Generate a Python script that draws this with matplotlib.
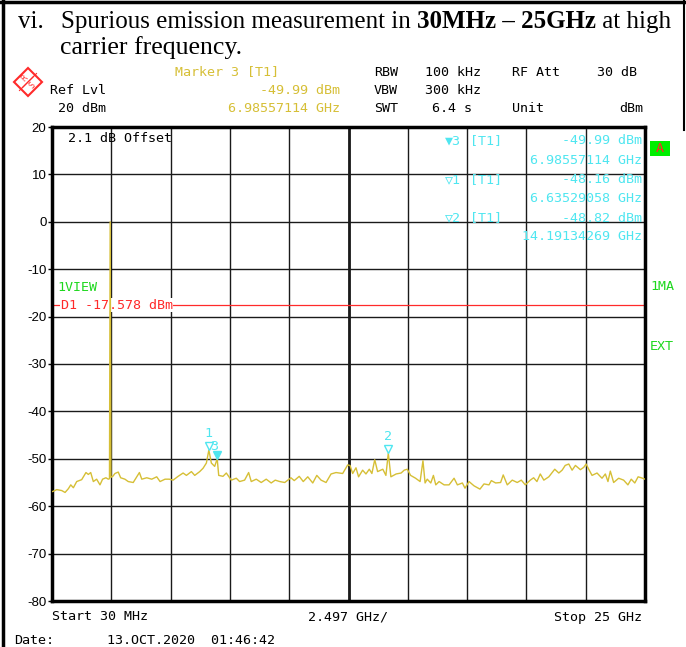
import matplotlib.pyplot as plt
import matplotlib.transforms as mtransforms
from matplotlib.lines import Line2D
from matplotlib.patches import Polygon, Rectangle

# trace (GHz, dBm)
freq = [0.06, 0.23, 0.44, 0.58, 0.72, 0.82, 0.93, 1.07, 1.28, 1.46, 1.56, 1.66,
        1.77, 1.91, 2.05, 2.16, 2.30, 2.40, 2.45, 2.48, 2.51, 2.59, 2.68, 2.82,
        2.92, 3.10, 3.24, 3.45, 3.71, 3.81, 4.02, 4.23, 4.44, 4.58, 4.79, 4.97,
        5.13, 5.34, 5.55, 5.69, 5.90, 6.04, 6.25, 6.39, 6.53, 6.635, 6.74, 6.88,
        6.986, 7.05, 7.23, 7.37, 7.58, 7.79, 7.93, 8.14, 8.31, 8.42, 8.63, 8.84,
        9.05, 9.26, 9.43, 9.62, 9.83, 10.09, 10.23, 10.44, 10.61, 10.80, 11.01,
        11.18, 11.36, 11.57, 11.78, 11.99, 12.27, 12.48, 12.58, 12.69, 12.83,
        12.94, 13.11, 13.25, 13.39, 13.50, 13.62, 13.74, 13.96, 14.09, 14.191,
        14.30, 14.52, 14.73, 14.86, 14.99, 15.13, 15.34, 15.53, 15.65, 15.74,
        15.83, 15.98, 16.09, 16.19, 16.33, 16.54, 16.75, 16.96, 17.10, 17.31,
        17.42, 17.59, 17.80, 18.05, 18.22, 18.43, 18.53, 18.71, 18.92, 19.03,
        19.20, 19.41, 19.62, 19.79, 19.96, 20.17, 20.31, 20.45, 20.59, 20.74,
        20.95, 21.20, 21.37, 21.51, 21.64, 21.79, 21.93, 22.07, 22.28, 22.42,
        22.52, 22.63, 22.77, 22.98, 23.19, 23.33, 23.44, 23.54, 23.68, 23.89,
        24.10, 24.28, 24.42, 24.57, 24.71, 24.84, 25.0]
level = [-56.9, -56.5, -56.7, -57.1, -56.3, -55.5, -56.1, -54.8, -54.4, -52.9, -53.3, -52.9,
         -54.8, -54.3, -55.5, -54.3, -54.0, -54.3, -54.2, 0.0, -53.9, -53.7, -53.1, -52.8,
         -54.0, -54.3, -54.8, -55.0, -52.9, -54.3, -54.0, -54.3, -53.8, -54.8, -54.3, -54.3,
         -54.5, -53.7, -53.0, -53.5, -52.7, -53.5, -52.7, -52.0, -50.9, -48.16, -50.9, -51.6,
         -49.99, -53.5, -53.7, -53.0, -54.5, -54.1, -54.8, -54.5, -52.9, -54.8, -54.3, -55.0,
         -54.3, -55.1, -54.5, -54.8, -55.0, -54.0, -54.6, -53.7, -54.8, -53.8, -55.1,
         -53.5, -54.5, -55.0, -53.2, -52.9, -53.1, -51.3, -51.4, -53.1, -51.9,
         -53.8, -52.4, -53.2, -52.2, -53.1, -50.2, -52.7, -52.2, -53.5, -48.82,
         -53.8, -53.2, -53.0, -52.4, -52.2, -53.5, -54.1, -54.8, -50.4, -55.1,
         -54.3, -55.1, -53.5, -55.5, -54.8, -55.5, -55.5, -54.1, -55.5, -55.1,
         -56.2, -54.8, -55.7, -56.4, -55.3, -55.5, -54.6, -55.1, -55.0, -53.4,
         -55.5, -54.5, -55.0, -54.5, -55.5, -54.5, -54.0, -54.8, -53.2, -54.5,
         -53.8, -52.2, -53.0, -52.4, -51.4, -51.1, -52.4, -51.4, -52.3, -51.8,
         -51.1, -52.2, -53.5, -53.0, -54.1, -53.2, -54.8, -52.6, -55.0, -54.1,
         -54.5, -55.5, -54.3, -55.1, -53.8, -54.0, -54.3]

# markers: number, frequency (GHz), level (dBm), filled
mk_num = ['1', '2', '3']
mk_freq = [6.63529058, 14.19134269, 6.98557114]
mk_level = [-48.16, -48.82, -49.99]
mk_filled = [False, False, True]

display_line = -17.578
f_start, f_stop = 0.03, 25.0
yticks = [20, 10, 0, -10, -20, -30, -40, -50, -60, -70, -80]

W, H = 686, 647
fig = plt.figure(figsize=(W / 100, H / 100), dpi=100)

def px(x, y):
    return x / W, 1 - y / H

mono = 'DejaVu Sans Mono'
yellow = '#d6bf36'
cyan = '#4fe6f0'
green = '#1ed81e'
red = '#ff2a2a'
hs = 9.6   # instrument text size
ts = 18    # title size

# table cell border
fig.add_artist(Line2D([3 / W, 3 / W], [0, 1], color='black', lw=2.5))
fig.add_artist(Line2D([0, 1], [1 - 1.5 / H, 1 - 1.5 / H], color='black', lw=2.5))
fig.add_artist(Line2D([684 / W, 684 / W], [1 - 130 / H, 1], color='black', lw=1.5))

# title, pieces placed one after the other
r = fig.canvas.get_renderer()
fig.text(*px(18, 22), 'vi.', fontsize=ts, family='Liberation Serif', va='center')
t0 = fig.text(*px(61, 22), 'Spurious emission measurement in ', fontsize=ts,
              family='Liberation Serif', va='center')
x1 = t0.get_window_extent(r).x1 / W
t2 = fig.text(x1, 1 - 22 / H, '30MHz \u2013 25GHz', fontsize=ts,
              family='Liberation Serif', weight='bold', va='center')
x2 = t2.get_window_extent(r).x1 / W
fig.text(x2, 1 - 22 / H, ' at high', fontsize=ts, family='Liberation Serif', va='center')
fig.text(*px(60, 48), 'carrier frequency.', fontsize=18.5, family='Liberation Serif',
         va='center')

# R&S logo
cx, cy, rr = 28, 82, 14
logo = Polygon([px(cx, cy - rr), px(cx + rr, cy), px(cx, cy + rr), px(cx - rr, cy)],
               closed=True, fill=False, edgecolor=red, lw=1.5, transform=fig.transFigure)
fig.add_artist(logo)
for d in (-1.5, 1.5):
    fig.add_artist(Line2D([(cx - 7 + d) / W, (cx + 7 + d) / W],
                          [1 - (cy + 7 - d) / H, 1 - (cy - 7 - d) / H],
                          color=red, lw=0.8))
fig.text(*px(cx - 4, cy - 4), 'R', fontsize=5.5, color=red, ha='center', va='center', rotation=45)
fig.text(*px(cx + 4, cy + 4), 'S', fontsize=5.5, color=red, ha='center', va='center', rotation=45)

# instrument header
fig.text(*px(175, 72), 'Marker 3 [T1]', family=mono, fontsize=hs, color=yellow, va='center')
fig.text(*px(374, 72), 'RBW', family=mono, fontsize=hs, va='center')
fig.text(*px(425, 72), '100 kHz', family=mono, fontsize=hs, va='center')
fig.text(*px(512, 72), 'RF Att', family=mono, fontsize=hs, va='center')
fig.text(*px(637, 72), '30 dB', family=mono, fontsize=hs, va='center', ha='right')
fig.text(*px(50, 90), 'Ref Lvl', family=mono, fontsize=hs, va='center')
fig.text(*px(340, 90), '-49.99 dBm', family=mono, fontsize=hs, color=yellow, va='center', ha='right')
fig.text(*px(374, 90), 'VBW', family=mono, fontsize=hs, va='center')
fig.text(*px(425, 90), '300 kHz', family=mono, fontsize=hs, va='center')
fig.text(*px(58, 109), '20 dBm', family=mono, fontsize=hs, va='center')
fig.text(*px(340, 109), '6.98557114 GHz', family=mono, fontsize=hs, color=yellow, va='center', ha='right')
fig.text(*px(374, 109), 'SWT', family=mono, fontsize=hs, va='center')
fig.text(*px(432, 109), '6.4 s', family=mono, fontsize=hs, va='center')
fig.text(*px(512, 109), 'Unit', family=mono, fontsize=hs, va='center')
fig.text(*px(643, 109), 'dBm', family=mono, fontsize=hs, va='center', ha='right')

# plot area
ax = fig.add_axes([52 / W, 46 / H, 593 / W, 474 / H])
ax.set_xlim(f_start, f_stop)
ax.set_ylim(-80, 20)
ax.set_yticks(yticks)
ax.set_yticklabels([str(v) for v in yticks], family='Liberation Sans', fontsize=9.5)
ax.tick_params(axis='y', length=3, pad=1, width=1)
xt = [f_start + k * (f_stop - f_start) / 10 for k in range(11)]
ax.set_xticks(xt)
ax.set_xticklabels([])
ax.tick_params(axis='x', length=0)
ax.grid(True, color='#1a1a1a', lw=1.0)
ax.axvline(xt[5], color='#1a1a1a', lw=2.0)
for s in ax.spines.values():
    s.set_linewidth(2.5)
    s.set_color('black')

ax.plot(freq, level, color=yellow, lw=1.0, zorder=4)

# display line
ax.axhline(display_line, color=red, lw=0.9, zorder=2)
ax.text(0.4, display_line, 'D1 -17.578 dBm', family=mono, fontsize=hs, color=red,
        va='center', zorder=3, bbox=dict(facecolor='white', edgecolor='none', pad=0.5))

ax.text(0.7, 17.6, '2.1 dB Offset', family=mono, fontsize=hs, va='center')
ax.text(0.25, -13.8, '1VIEW', family=mono, fontsize=hs, color=green, va='center')

# marker table
rows = [('\u25bc3', '[T1]', '-49.99 dBm', '6.98557114 GHz'),
        ('\u25bd1', '[T1]', '-48.16 dBm', '6.63529058 GHz'),
        ('\u25bd2', '[T1]', '-48.82 dBm', '14.19134269 GHz')]
for i, (a, b, c, d) in enumerate(rows):
    y1 = 141 + i * 38.5
    fig.text(*px(445, y1), a, family=mono, fontsize=hs, color=cyan, va='center')
    fig.text(*px(470, y1), b, family=mono, fontsize=hs, color=cyan, va='center')
    fig.text(*px(642, y1), c, family=mono, fontsize=hs, color=cyan, va='center', ha='right')
    fig.text(*px(642, y1 + 19), d, family=mono, fontsize=hs, color=cyan, va='center', ha='right')

# marker symbols on trace
for n, f, lv, filled in zip(mk_num, mk_freq, mk_level, mk_filled):
    tri = mtransforms.offset_copy(ax.transData, fig=fig, x=0, y=3, units='points')
    ax.plot([f], [lv], marker='v', ms=6, color=cyan,
            markerfacecolor=cyan if filled else 'white', transform=tri, zorder=5)
    if filled:
        lab = mtransforms.offset_copy(ax.transData, fig=fig, x=-2, y=9, units='points')
    else:
        lab = mtransforms.offset_copy(ax.transData, fig=fig, x=0, y=12, units='points')
    ax.text(f, lv, n, transform=lab, family=mono, fontsize=hs, color=cyan,
            ha='center', va='center', zorder=5)

# right side labels
fig.add_artist(Rectangle(px(650, 156), 20 / W, 15 / H, facecolor='#00ee00',
                         edgecolor='none', transform=fig.transFigure))
fig.text(*px(660, 148), 'A', family=mono, fontsize=hs, color=red, ha='center', va='center')
fig.text(*px(650, 287), '1MA', family=mono, fontsize=hs, color=green, va='center')
fig.text(*px(650, 347), 'EXT', family=mono, fontsize=hs, color=green, va='center')

# bottom
fig.text(*px(52, 617), 'Start 30 MHz', family=mono, fontsize=hs, va='center')
fig.text(*px(348, 617), '2.497 GHz/', family=mono, fontsize=hs, va='center', ha='center')
fig.text(*px(642, 617), 'Stop 25 GHz', family=mono, fontsize=hs, va='center', ha='right')
fig.text(*px(14, 641), 'Date:', family=mono, fontsize=hs, va='center')
fig.text(*px(107, 641), '13.OCT.2020  01:46:42', family=mono, fontsize=hs, va='center')

fig.savefig('out.png', dpi=100)
